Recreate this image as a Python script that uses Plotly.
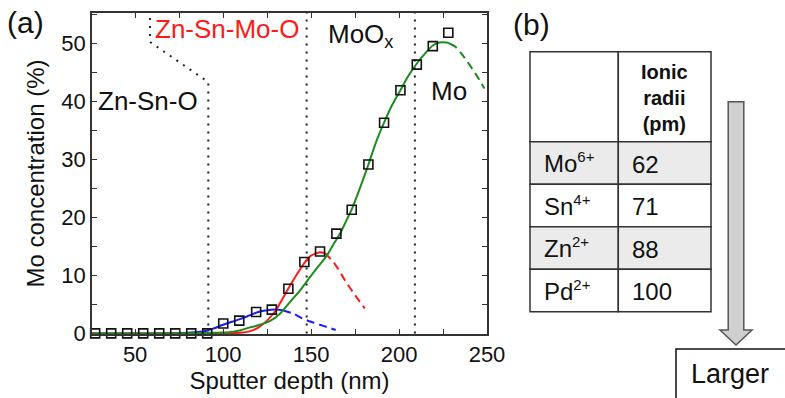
import plotly.graph_objects as go

# ---------------- data ----------------
depth_pts = [27.3, 36.4, 45.5, 54.6, 63.7, 72.8, 81.9, 91.0, 100.1, 109.2, 118.8, 127.7,
             137.1, 146.2, 155.1, 164.4, 173.1, 182.6, 191.5, 200.8, 210.1, 219.2, 228.0]
mo_pts = [0, 0, 0, 0, 0, 0, 0, 0, 1.7, 2.2, 3.7, 4.1,
          7.7, 12.3, 14.1, 17.2, 21.3, 29.1, 36.3, 41.9, 46.3, 49.5, 51.8]

blue_x = [25, 50, 70, 80, 90, 95, 100, 105, 110, 115, 120, 125, 130, 134]
blue_y = [0, 0, 0.02, 0.1, 0.4, 0.9, 1.5, 2.0, 2.5, 3.1, 3.7, 4.0, 4.1, 4.0]
blue_dash_x = [134, 140, 145, 150, 155, 160, 164]
blue_dash_y = [4.0, 3.4, 2.6, 2.0, 1.5, 1.0, 0.6]

red_x = [25, 60, 90, 100, 110, 115, 120, 125, 130, 137, 142, 146.6, 150, 155, 158]
red_y = [0, 0, 0, 0.03, 0.1, 0.35, 1.0, 2.2, 4.0, 7.7, 10.2, 12.3, 13.4, 14.0, 13.8]
red_dash_x = [158, 162.7, 166, 170, 175, 180.5]
red_dash_y = [13.8, 12.3, 10.8, 8.8, 6.6, 4.3]

green_x = [25, 60, 75, 85, 95, 100, 105, 110, 115, 120, 127, 132, 138, 144, 149.4, 154,
           159, 163, 166.5, 170, 173, 178, 182.6, 187, 191.5, 196, 200.8, 205, 210.1,
           215, 219.2, 223, 227, 229]
green_y = [0, 0, 0, 0.03, 0.1, 0.15, 0.25, 0.55, 1.0, 1.4, 2.2, 3.3, 5.4, 7.5, 9.7, 11.5,
           13.4, 15.5, 17.2, 19.4, 21.3, 25.2, 29.1, 33.0, 36.3, 39.3, 41.9, 44.2, 46.5,
           48.3, 49.6, 50.1, 50.1, 49.9]
green_dash_x = [229, 232, 236, 240, 244, 248.5]
green_dash_y = [49.9, 49.4, 48.0, 46.3, 44.5, 42.2]

# region boundaries (dotted guide lines)
zso_x = [91.6, 91.6, 58.5, 58.5]
zso_y = [0, 43.3, 50.2, 56]
boundaries = [147.5, 209.0]

x_ticks = [50, 100, 150, 200, 250]
y_ticks = [0, 10, 20, 30, 40, 50]

# table (b)
table_header = "Ionic<br>radii<br>(pm)"
ions = ["Mo", "Sn", "Zn", "Pd"]
charges = ["6+", "4+", "2+", "2+"]
radii = [62, 71, 88, 100]
row_fill = ["#ebebeb", "white", "#ebebeb", "white"]

# ---------------- layout helpers ----------------
W, H = 785, 398
ML, MR, MT, MB = 92, 0, 13, 64
PW = W - ML - MR
PH = H - MT - MB


def px(x):
    return (x - ML) / PW


def py(y):
    return (H - MB - y) / PH


FONT = "Liberation Sans, Arial, sans-serif"
RED = "#ff1a1a"
GREEN = "#1c8c1c"
BLUE = "#1a1aff"
DOT = "2px,6px"

fig = go.Figure()


def line(x, y, color, dash=None, width=2):
    fig.add_trace(go.Scatter(x=x, y=y, mode="lines", hoverinfo="skip",
                             line=dict(color=color, width=width, dash=dash,
                                       shape="spline", smoothing=0.6)))


# dotted guides
fig.add_trace(go.Scatter(x=zso_x, y=zso_y, mode="lines", hoverinfo="skip",
                         line=dict(color="#222", width=2, dash=DOT)))
for b in boundaries:
    fig.add_trace(go.Scatter(x=[b, b], y=[0, 56], mode="lines", hoverinfo="skip",
                             line=dict(color="#222", width=2, dash=DOT)))

line(blue_x, blue_y, BLUE)
line(blue_dash_x, blue_dash_y, BLUE, "8px,5px")
line(red_x, red_y, RED)
line(red_dash_x, red_dash_y, RED, "8px,5px")
line(green_x, green_y, GREEN)
line(green_dash_x, green_dash_y, GREEN, "8px,5px")

fig.add_trace(go.Scatter(x=depth_pts, y=mo_pts, mode="markers", cliponaxis=False,
                         marker=dict(symbol="square-open", size=9, color="#111",
                                     line=dict(width=1.6, color="#111"))))

axis_common = dict(showgrid=False, zeroline=False, showline=True, linecolor="#333",
                   linewidth=1.5, mirror="ticks", ticks="inside", ticklen=5,
                   tickwidth=1.2, tickcolor="#333",
                   tickfont=dict(family=FONT, size=22, color="#111"))

fig.update_layout(
    width=W, height=H, margin=dict(l=ML, r=MR, t=MT, b=MB, autoexpand=False),
    paper_bgcolor="white", plot_bgcolor="white", showlegend=False,
    font=dict(family=FONT, color="#111"),
    xaxis=dict(domain=[0, 395 / PW], range=[25.5, 250], tickvals=x_ticks,
               minor=dict(dtick=25, tick0=0, ticks="inside", ticklen=5, tickcolor="#333"),
               title=dict(text="Sputter depth (nm)", standoff=0,
                          font=dict(family=FONT, size=24, color="#111")),
               **axis_common),
    yaxis=dict(range=[-0.1, 55.2], tickvals=y_ticks,
               minor=dict(dtick=5, tick0=0, ticks="inside", ticklen=5, tickcolor="#333"),
               title=dict(text="Mo concentration (%)", standoff=10,
                          font=dict(family=FONT, size=24, color="#111")),
               **axis_common),
)


def text(t, x, y, size, color="#111", xanchor="center", yanchor="middle"):
    fig.add_annotation(text=t, x=px(x), y=py(y), xref="paper", yref="paper",
                       xanchor=xanchor, yanchor=yanchor, showarrow=False,
                       font=dict(family=FONT, size=size, color=color))


text("(a)", 25, 22, 30)
text("(b)", 531, 24, 30)
text("Zn-Sn-Mo-O", 227, 29, 26, RED)
text("MoO<sub>x</sub>", 360, 35, 26)
text("Mo", 449, 91, 26)
text("Zn-Sn-O", 148, 101, 26)

# ---- table (b): cells laid out from the arrays ----
T_L, T_C, T_R = 530, 618.3, 711
T_TOP, T_HEAD = 51.7, 141.7
ROW_H = 42.5
LINE = dict(color="#333", width=1.5)


def rect(x0, y0, x1, y1, fill, ln=LINE):
    fig.add_shape(type="rect", xref="paper", yref="paper", x0=px(x0), x1=px(x1),
                  y0=py(y1), y1=py(y0), fillcolor=fill, line=ln, layer="below")


rect(T_L, T_TOP, T_C, T_HEAD, "white")
rect(T_C, T_TOP, T_R, T_HEAD, "white")
text(f"<b>{table_header}</b>", (T_C + T_R) / 2, 98, 20)
for i, (ion, ch, r) in enumerate(zip(ions, charges, radii)):
    y0 = T_HEAD + i * ROW_H
    y1 = y0 + ROW_H
    rect(T_L, y0, T_C, y1, row_fill[i])
    rect(T_C, y0, T_R, y1, row_fill[i])
    yc = (y0 + y1) / 2
    text(f"{ion}<sup><span style='font-size:15px'>{ch}</span></sup>", T_L + 12, yc, 24,
         xanchor="left")
    text(str(r), T_C + 12, yc + 1.5, 24, xanchor="left")

# arrow and "Larger" box
cx, hw, top, sb, hhw, tip = 736, 7.8, 101.7, 330, 16, 345
pts = [(cx - hw, top), (cx + hw, top), (cx + hw, sb), (cx + hhw, sb), (cx, tip),
       (cx - hhw, sb), (cx - hw, sb)]
path = "M " + " L ".join(f"{px(a):.5f},{py(b):.5f}" for a, b in pts) + " Z"
fig.add_shape(type="path", path=path, xref="paper", yref="paper",
              fillcolor="#cfcfcf", line=dict(color="#555", width=1.5))
fig.add_shape(type="rect", xref="paper", yref="paper", x0=px(676), x1=px(795),
              y0=py(349), y1=py(405), line=dict(color="#111", width=1.5),
              fillcolor="rgba(0,0,0,0)")
text("Larger", 730, 374, 27)

fig.write_html("out.html", config={"displayModeBar": False},
               post_script="document.body.style.margin='0px';")
